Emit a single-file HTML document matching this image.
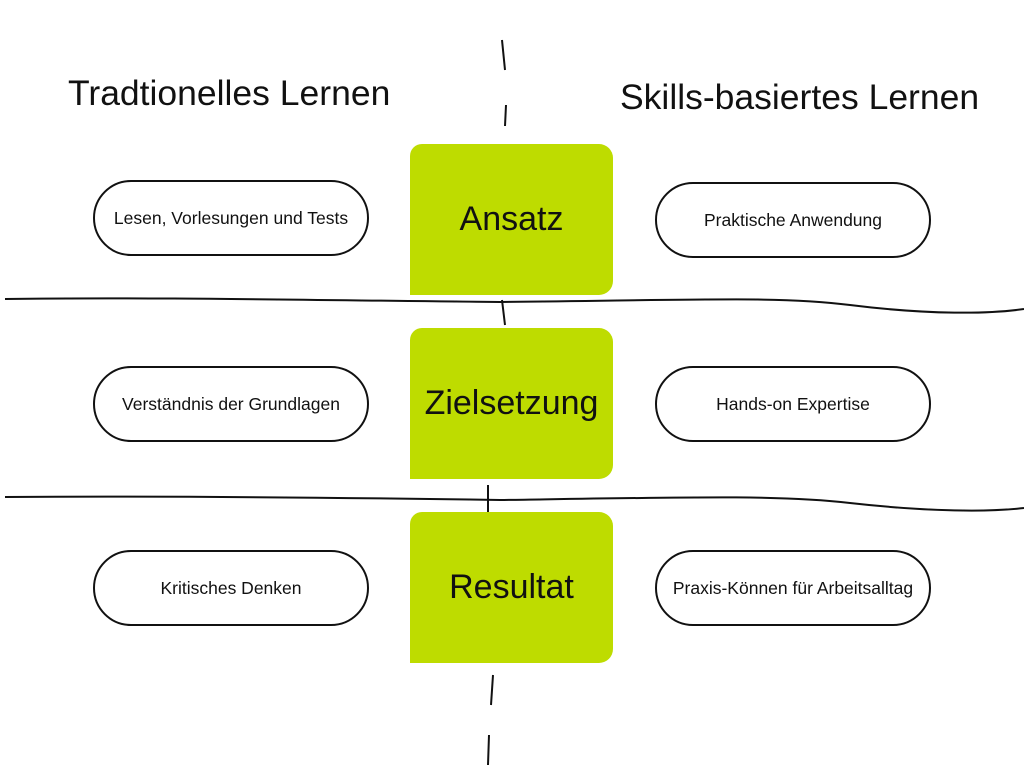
<!DOCTYPE html>
<html><head><meta charset="utf-8"><style>
body{margin:0;width:1024px;height:768px;background:#fff;position:relative;overflow:hidden;font-family:"Liberation Sans",sans-serif}
.t{position:absolute;font-size:35.5px;color:#111}
.g{position:absolute;left:410px;width:203px;height:151px;background:#bedc00;border-radius:12px 14px 14px 0;display:flex;align-items:center;justify-content:center;font-size:34px;color:#111}
.p{position:absolute;width:272px;height:72px;border:2px solid #111;border-radius:40px;display:flex;align-items:center;justify-content:center;font-size:17.5px;color:#111}
svg{position:absolute;left:0;top:0}
</style></head><body>
<div class="t" style="left:68px;top:73px">Tradtionelles Lernen</div>
<div class="t" style="left:620px;top:77px">Skills-basiertes Lernen</div>
<svg width="1024" height="768" fill="none" stroke="#111" stroke-width="2">
<path d="M502 40 L505 70 M506 105 L505 126 M502 300 L505 325 M488 485 L488 515 M493 675 L491 705 M489 735 L488 765"/>
<path d="M5 299 C150 297 300 300 500 302 C700 300 780 296 850 305 C930 315 990 314 1024 309"/>
<path d="M5 497 C150 496 300 497 500 500 C700 497 780 495 850 503 C930 512 990 512 1024 508"/>
</svg>
<div class="g" style="top:144px">Ansatz</div>
<div class="g" style="top:328px">Zielsetzung</div>
<div class="g" style="top:512px">Resultat</div>
<div class="p" style="left:93px;top:180px">Lesen, Vorlesungen und Tests</div>
<div class="p" style="left:655px;top:182px">Praktische Anwendung</div>
<div class="p" style="left:93px;top:366px">Verständnis der Grundlagen</div>
<div class="p" style="left:655px;top:366px">Hands-on Expertise</div>
<div class="p" style="left:93px;top:550px">Kritisches Denken</div>
<div class="p" style="left:655px;top:550px">Praxis-Können für Arbeitsalltag</div>
</body></html>
